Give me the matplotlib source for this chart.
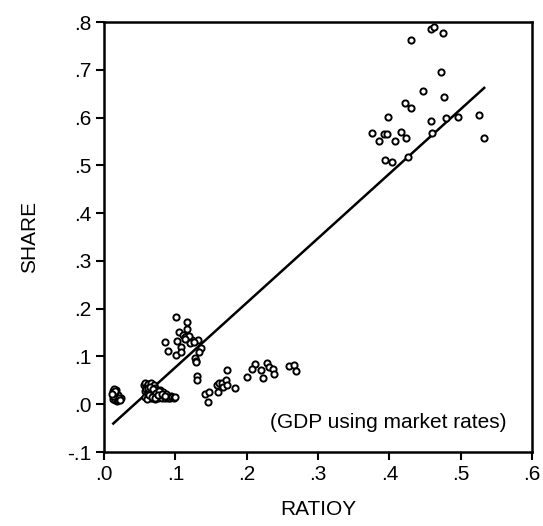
import matplotlib
matplotlib.use("Agg")
import matplotlib.pyplot as plt
import numpy as np
from matplotlib.ticker import FuncFormatter

plt.rcParams['font.family'] = ['Liberation Sans', 'DejaVu Sans']

# --- data ---
# upper cluster
ratio_hi = [0.458, 0.462, 0.475, 0.431, 0.473, 0.447, 0.477, 0.422, 0.431,
            0.398, 0.459, 0.480, 0.496, 0.526, 0.376, 0.386, 0.393, 0.397,
            0.408, 0.416, 0.424, 0.460, 0.533, 0.394, 0.404, 0.426]
share_hi = [0.786, 0.790, 0.777, 0.762, 0.695, 0.656, 0.643, 0.631, 0.620,
            0.601, 0.593, 0.599, 0.601, 0.605, 0.568, 0.551, 0.566, 0.566,
            0.551, 0.570, 0.557, 0.568, 0.557, 0.511, 0.507, 0.518]
# middle cluster
ratio_mid = [0.101, 0.116, 0.116, 0.105, 0.111, 0.118, 0.123, 0.132, 0.102,
             0.086, 0.108, 0.090, 0.101, 0.108, 0.136, 0.133, 0.128, 0.129,
             0.129, 0.130, 0.131, 0.114, 0.120, 0.126, 0.119, 0.113]
share_mid = [0.183, 0.172, 0.158, 0.151, 0.145, 0.139, 0.135, 0.135, 0.133,
             0.131, 0.120, 0.112, 0.103, 0.110, 0.118, 0.110, 0.097, 0.091,
             0.089, 0.059, 0.051, 0.141, 0.128, 0.130, 0.143, 0.137]
# lower-right spread
ratio_lr = [0.173, 0.201, 0.212, 0.208, 0.220, 0.223, 0.229, 0.232, 0.237,
            0.238, 0.260, 0.267, 0.269, 0.142, 0.147, 0.146, 0.160, 0.158,
            0.161, 0.165, 0.167, 0.171, 0.173, 0.184]
share_lr = [0.072, 0.057, 0.085, 0.074, 0.072, 0.055, 0.087, 0.078, 0.074,
            0.064, 0.080, 0.082, 0.070, 0.022, 0.026, 0.005, 0.026, 0.041,
            0.045, 0.045, 0.036, 0.051, 0.041, 0.034]
# dense lower-left clusters
ratio_ll = [0.012, 0.014, 0.015, 0.013, 0.016, 0.018, 0.020, 0.022, 0.024,
            0.017, 0.019, 0.021, 0.013, 0.015, 0.023, 0.014, 0.016, 0.011,
            0.056, 0.058, 0.060, 0.062, 0.064, 0.066, 0.068, 0.070, 0.072,
            0.057, 0.059, 0.061, 0.063, 0.065, 0.067, 0.069, 0.071, 0.074,
            0.058, 0.062, 0.066, 0.070, 0.074, 0.078, 0.076, 0.080, 0.082,
            0.084, 0.086, 0.088, 0.090, 0.092, 0.094, 0.096, 0.098, 0.100,
            0.060, 0.064, 0.068, 0.072, 0.079, 0.083, 0.087, 0.061, 0.065,
            0.069, 0.073, 0.077, 0.063, 0.067, 0.071, 0.075, 0.081, 0.085]
share_ll = [0.028, 0.022, 0.016, 0.010, 0.008, 0.006, 0.008, 0.010, 0.014,
            0.030, 0.020, 0.012, 0.018, 0.025, 0.009, 0.032, 0.027, 0.021,
            0.040, 0.045, 0.038, 0.042, 0.035, 0.044, 0.036, 0.040, 0.033,
            0.028, 0.032, 0.025, 0.030, 0.022, 0.028, 0.020, 0.026, 0.030,
            0.015, 0.018, 0.014, 0.016, 0.020, 0.024, 0.012, 0.018, 0.014,
            0.020, 0.012, 0.016, 0.014, 0.013, 0.018, 0.015, 0.012, 0.016,
            0.010, 0.022, 0.012, 0.010, 0.030, 0.025, 0.022, 0.034, 0.037,
            0.031, 0.024, 0.027, 0.019, 0.016, 0.014, 0.019, 0.021, 0.017]

ratioy = ratio_hi + ratio_mid + ratio_lr + ratio_ll
share = share_hi + share_mid + share_lr + share_ll

# fitted regression line
fit_intercept = -0.058
fit_slope = 1.351
fit_xrange = [0.013, 0.533]

x_ticks = [0.0, 0.1, 0.2, 0.3, 0.4, 0.5, 0.6]
y_ticks = [-0.1, 0.0, 0.1, 0.2, 0.3, 0.4, 0.5, 0.6, 0.7, 0.8]
note = "(GDP using market rates)"

# --- figure ---
fig = plt.figure(figsize=(5.43, 5.26), dpi=100)
ax = fig.add_axes([104/543, 1-452/526, (532-104)/543, (452-22)/526])

ax.scatter(ratioy, share, s=20, facecolors='white', edgecolors='black',
           linewidths=1.4, zorder=3)
lx = np.array(fit_xrange)
ax.plot(lx, fit_intercept + fit_slope * lx, color='black', lw=1.8, zorder=2)

ax.set_xlim(0.0, 0.6)
ax.set_ylim(-0.1, 0.8)
ax.set_xticks(x_ticks)
ax.set_yticks(y_ticks)

def fmt(v, pos):
    s = f"{v:.1f}"
    return s.replace("0.", ".", 1)

ax.xaxis.set_major_formatter(FuncFormatter(fmt))
ax.yaxis.set_major_formatter(FuncFormatter(fmt))
ax.tick_params(direction='out', length=6, width=1.5, labelsize=15, pad=3,
               colors='black')
for sp in ax.spines.values():
    sp.set_linewidth(1.8)

ax.set_xlabel("RATIOY", fontsize=15, labelpad=12)
ax.set_ylabel("SHARE", fontsize=15, labelpad=20)
ax.text(0.233, -0.039, note, fontsize=15, va='center', ha='left')

fig.savefig("out.png", dpi=100)
